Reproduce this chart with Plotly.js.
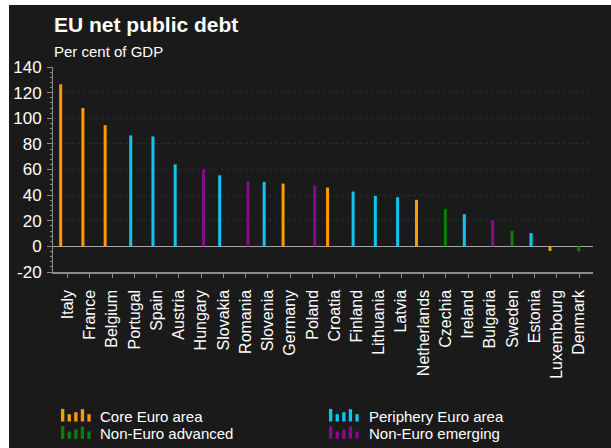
<!DOCTYPE html>
<html>
<head>
<meta charset="utf-8">
<script src="https://cdn.plot.ly/plotly-3.0.1.min.js"></script>
<style>
  html, body { margin: 0; padding: 0; background: #ffffff; width: 611px; height: 448px; overflow: hidden; }
  #chart { position: absolute; left: 9px; top: 5px; width: 602px; height: 443px; }
</style>
</head>
<body>
<div id="chart"></div>
<script>
// ---- data ----
const countries = ["Italy","France","Belgium","Portugal","Spain","Austria","Hungary","Slovakia","Romania","Slovenia","Germany","Poland","Croatia","Finland","Lithuania","Latvia","Netherlands","Czechia","Ireland","Bulgaria","Sweden","Estonia","Luxembourg","Denmark"];
const debt = [126.5,108.1,94.6,86.6,85.8,64.0,60.1,55.5,50.8,50.3,49.0,47.7,45.9,42.8,39.4,38.4,36.3,29.3,25.1,20.5,12.2,10.4,-3.6,-3.9];
const group = ["core","core","core","periphery","periphery","periphery","emerging","periphery","emerging","periphery","core","emerging","core","periphery","periphery","periphery","core","advanced","periphery","emerging","advanced","periphery","core","advanced"];
const groupKeys = ["core","periphery","advanced","emerging"];
const groupNames = ["Core Euro area","Periphery Euro area","Non-Euro advanced","Non-Euro emerging"];
const groupColors = ["#ff9900","#12c4f2","#0b7f0b","#870a87"];
const yTickVals = [-20,0,20,40,60,80,100,120,140];
const yTickText = ["-20","0","20","40","60","80","100","120","140"];

// ---- styling ----
const barCenters = [-0.315,-0.166,-0.018,0.108];
const barWidth = 0.135;
const font = "Liberation Sans, Arial, sans-serif";

const traces = groupKeys.map((k, gi) => ({
  type: "bar",
  name: groupNames[gi],
  x: countries,
  y: debt.map((v, i) => group[i] === k ? v : null),
  width: barWidth,
  offset: barCenters[gi] - barWidth / 2,
  marker: { color: groupColors[gi], line: { width: 0 } },
  hoverinfo: "x+y",
  showlegend: false
}));

// pixel -> paper helpers (page pixels)
const PL = 53, PW = 540, PB = 272, PH = 205;
const px = x => (x - PL) / PW;
const py = y => (PB - y) / PH;

const annotations = [
  { text: "<b>EU net public debt</b>", xref: "paper", yref: "paper", x: px(52), y: py(24), xanchor: "left", yanchor: "middle", showarrow: false, font: { family: font, size: 21, color: "#ffffff" } },
  { text: "Per cent of GDP", xref: "paper", yref: "paper", x: px(52), y: py(52), xanchor: "left", yanchor: "middle", showarrow: false, font: { family: font, size: 15, color: "#ffffff" } }
];

// custom legend
const legendPos = [ [61, 99, 0], [329, 368, 0], [61, 99, 1], [329, 368, 1] ];
const iconHeights = [12.6, 7.3, 9.3, 12.3, 7.3];
const shapes = [];
groupKeys.forEach((k, gi) => {
  const [ix, tx, row] = legendPos[gi];
  const base = row === 0 ? 421.5 : 438.8;
  iconHeights.forEach((h, j) => {
    const x0 = ix + j * 6.6;
    shapes.push({ type: "rect", xref: "paper", yref: "paper", x0: px(x0), x1: px(x0 + 3.3), y0: py(base), y1: py(base - h), fillcolor: groupColors[gi], line: { width: 0 } });
  });
  annotations.push({ text: groupNames[gi], xref: "paper", yref: "paper", x: px(tx - 1), y: py(row === 0 ? 416.5 : 433.5), xanchor: "left", yanchor: "middle", showarrow: false, font: { family: font, size: 15, color: "#ffffff" } });
});

const layout = {
  width: 602, height: 443,
  margin: { l: 44, r: 18, t: 62, b: 176, pad: 0 },
  paper_bgcolor: "#1a1a1a",
  plot_bgcolor: "#1a1a1a",
  barmode: "overlay",
  showlegend: false,
  font: { family: font, color: "#ffffff" },
  xaxis: {
    type: "category",
    range: [-0.66, 23.62],
    showline: true, linecolor: "#8c8c8c", linewidth: 1.5,
    ticks: "outside", ticklen: 4, tickcolor: "#8c8c8c", tickwidth: 1,
    tickangle: -90,
    tickfont: { family: font, size: 16, color: "#ffffff" },
    ticklabelstandoff: 6,
    showgrid: false, zeroline: false, fixedrange: true
  },
  yaxis: {
    range: [-20, 140],
    tickmode: "array", tickvals: yTickVals, ticktext: yTickText,
    showline: true, linecolor: "#8c8c8c", linewidth: 1,
    ticks: "outside", ticklen: 5, tickcolor: "#8c8c8c",
    tickfont: { family: font, size: 17, color: "#ffffff" },
    ticklabelstandoff: 2,
    showgrid: true, gridcolor: "#2b2b2b", griddash: "dot", gridwidth: 1,
    zeroline: true, zerolinecolor: "#a6a6a6", zerolinewidth: 1.5,
    minor: { tickmode: "linear", tick0: 0, dtick: 4, ticks: "outside", ticklen: 2, tickcolor: "#8c8c8c", showgrid: false },
    fixedrange: true
  },
  annotations: annotations,
  shapes: shapes
};

Plotly.newPlot("chart", traces, layout, { displayModeBar: false, staticPlot: true });
</script>
</body>
</html>
